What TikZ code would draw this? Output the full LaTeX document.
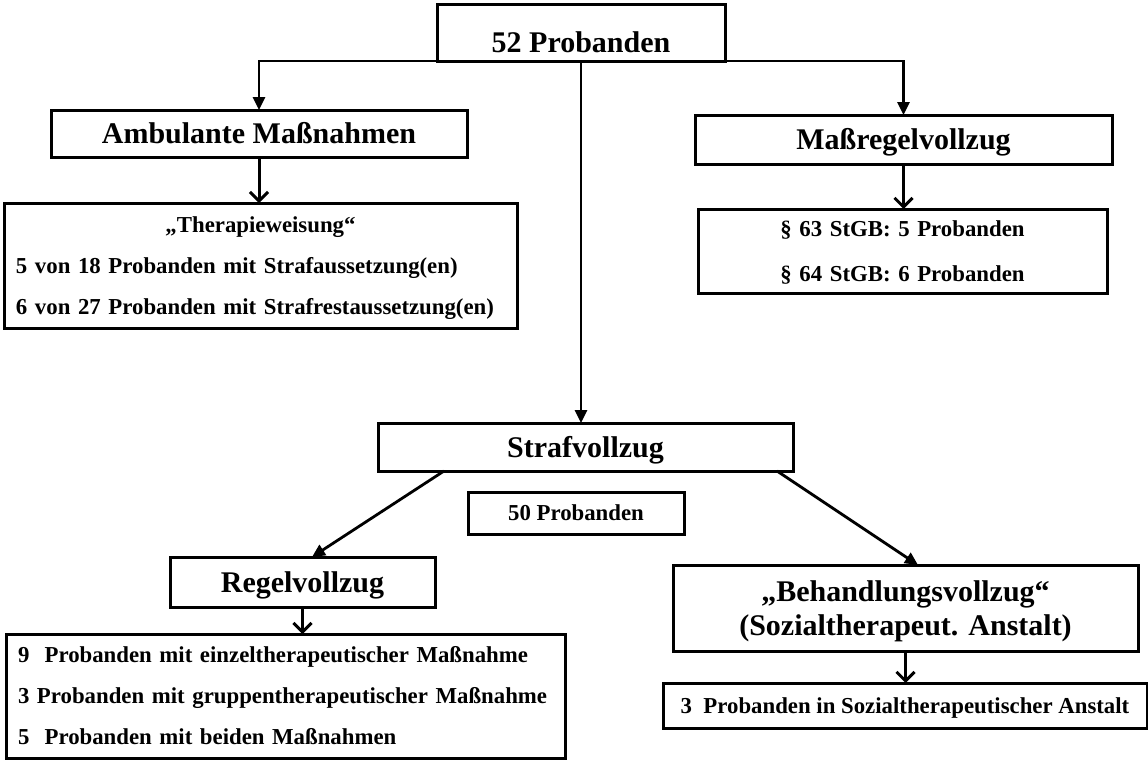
\documentclass[tikz,border=0pt]{standalone}
\usepackage{fontspec}
\setmainfont{Liberation Serif}
\frenchspacing
\usetikzlibrary{arrows.meta,positioning}
\tikzset{%
	headbox/.style  = {draw, rectangle, line width=3pt, outer sep=0pt, inner sep=0pt, font=\fontsize{30}{34}\selectfont\bfseries, text height=20pt, text depth=0pt, text centered},
	infobox/.style  = {draw, rectangle, line width=3pt, outer sep=0pt, inner sep=0pt, font=\fontsize{22.8}{41}\selectfont\bfseries, text height=15pt, text depth=0pt},
	arrow/.style    = {line width=2.8pt, -{Triangle[length=13pt,width=12pt]}},
	droparrow/.style= {line width=3pt, -{Straight Barb[length=9pt,width=18pt]}},
}

\begin{document}
\begin{tikzpicture}[x=1pt,y=-1pt]
		\useasboundingbox (0,0) rectangle (1148,761);
		
		\node[headbox, minimum width=288pt, minimum height=57pt, text height=39pt] (total) at (581,32.5) {52 Probanden};
		\node[headbox, minimum width=416pt, minimum height=47pt] (amb) at (259,133.5) {Ambulante Maßnahmen};
		\node[headbox, minimum width=417pt, minimum height=49pt] (mass) at (903.5,139.5) {Maßregelvollzug};
		\node[headbox, minimum width=415pt, minimum height=48pt] (straf) at (585.5,447) {Strafvollzug};
		\node[infobox, minimum width=216pt, minimum height=42pt] (fifty) at (576,513) {50 Probanden};
		\node[headbox, minimum width=265pt, minimum height=50pt] (regel) at (302.5,582) {Regelvollzug};
		\node[headbox, minimum width=465pt, minimum height=86pt, text width=440pt, align=center, text depth=34pt] (beh) at (905.5,608) {„Behandlungsvollzug“\\(Sozialtherapeut. Anstalt)};
		
		\node[infobox, minimum width=513pt, minimum height=125pt, text width=489pt, align=left, text depth=81pt] (ther) at (260.5,265.5) {\makebox[489pt]{„Therapieweisung“}\\5 von 18 Probanden mit Strafaussetzung(en)\\6 von 27 Probanden mit Strafrestaussetzung(en)};
		\node[infobox, minimum width=409pt, minimum height=84pt, text width=380pt, align=center, text depth=45pt] (stgb) at (902.5,251) {§ 63 StGB:\ 5 Probanden\\[4pt]§ 64 StGB:\ 6 Probanden};
		\node[infobox, minimum width=559pt, minimum height=124pt, text width=535pt, align=left, text depth=83pt] (list) at (285.5,696) {9\ \ Probanden mit einzeltherapeutischer Maßnahme\\3 Probanden mit gruppentherapeutischer Maßnahme\\5\ \ Probanden mit beiden Maßnahmen};
		\node[infobox, minimum width=484pt, minimum height=45pt] (anstalt) at (905,705.5) {3\ \ Probanden in Sozialtherapeutischer Anstalt};
		
		\draw[arrow] (total.south west) -| (amb.north);
		\draw[arrow] (total.south east) -| (mass.north);
		\draw[arrow] (total.south) -- (total.south |- straf.north);
		\draw[arrow] ([xshift=-141.5pt]straf.south) -- ([xshift=9.5pt]regel.north);
		\draw[arrow] ([xshift=191.5pt]straf.south) -- ([xshift=12.5pt]beh.north);
		
		\draw[droparrow] (amb.south) -- (amb.south |- ther.north);
		\draw[droparrow] (mass.south) -- (mass.south |- stgb.north);
		\draw[droparrow] (regel.south) -- (regel.south |- list.north);
		\draw[droparrow] (beh.south) -- (beh.south |- anstalt.north);
	\end{tikzpicture}
\end{document}
